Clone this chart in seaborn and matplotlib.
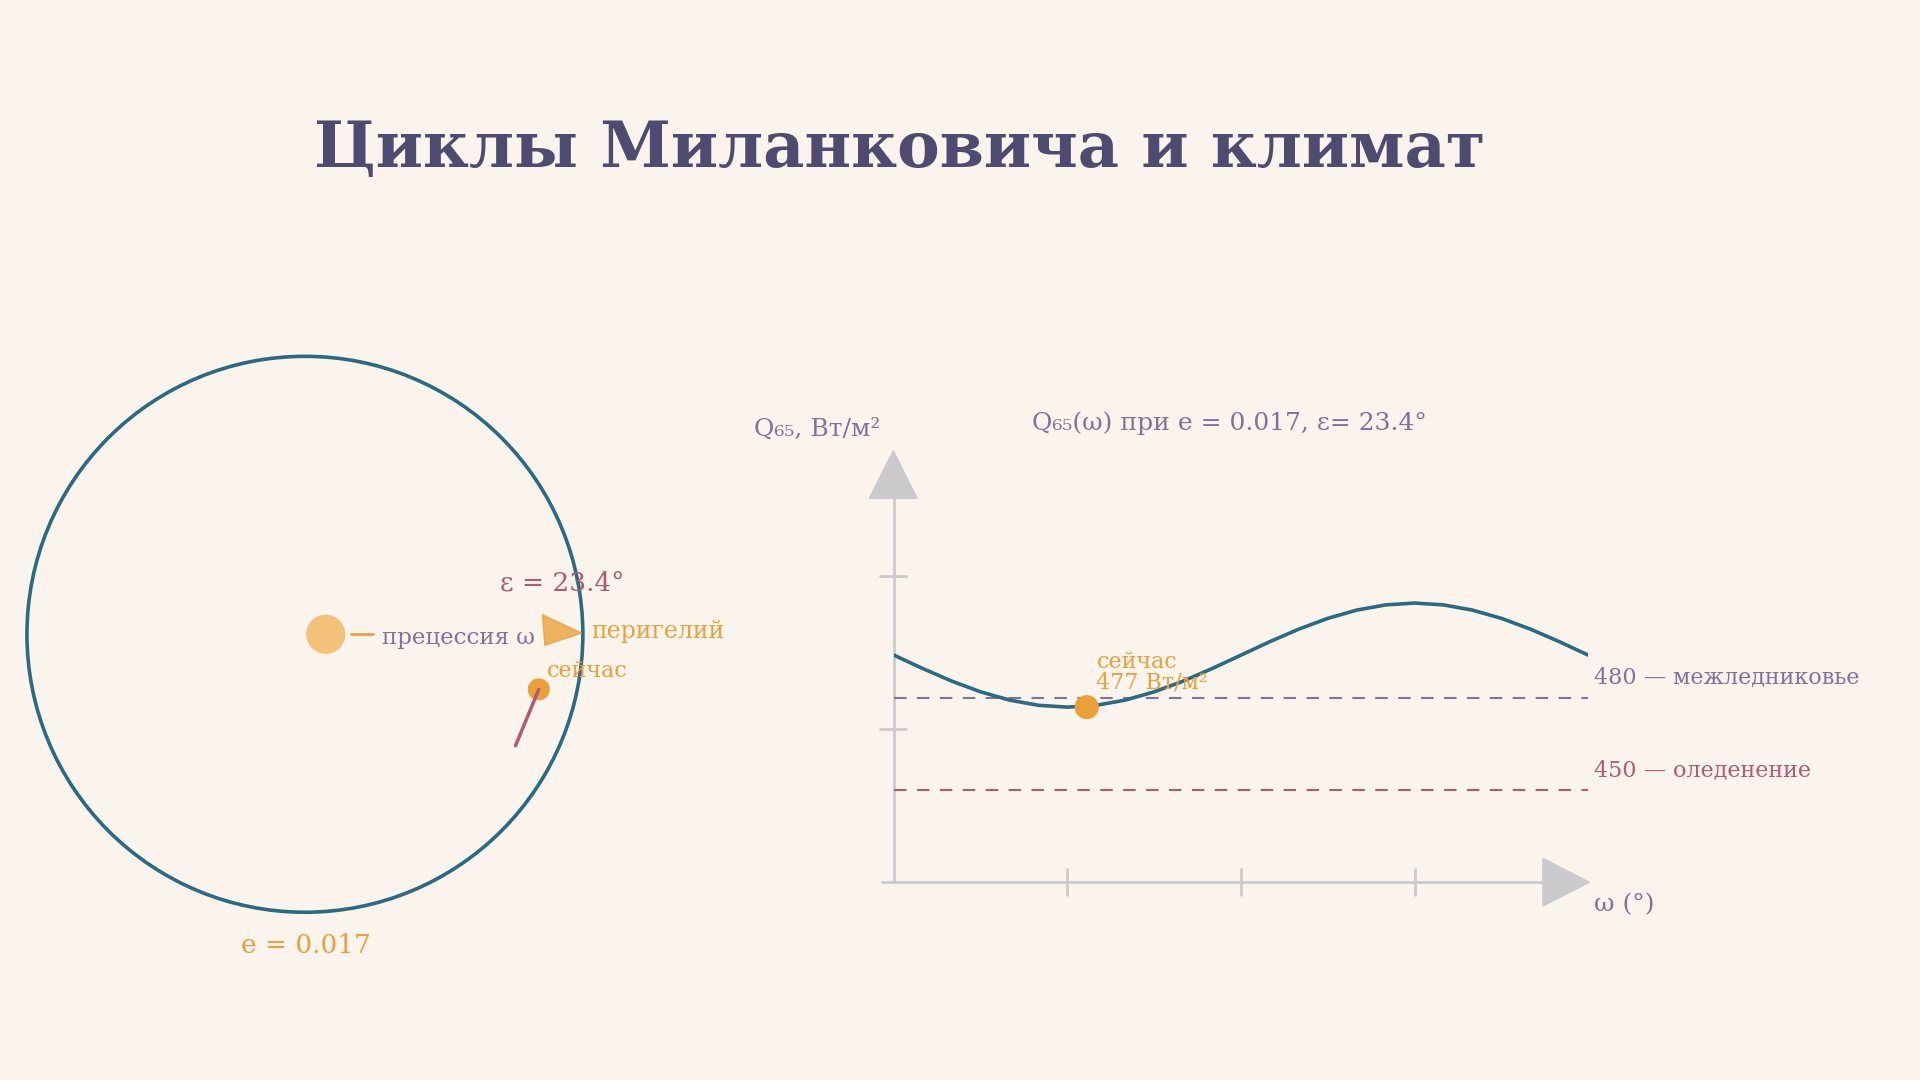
import numpy as np
import pandas as pd
import matplotlib
matplotlib.use("Agg")
import matplotlib.pyplot as plt
import seaborn as sns
from matplotlib.patches import Circle, Polygon

sns.set_theme(style="white")
plt.rcParams['font.family'] = ['DejaVu Serif', 'DejaVu Sans']

# ---- data ----
omega_deg = [0, 15, 30, 45, 60, 75, 90, 105, 120, 135, 150, 165, 180,
             195, 210, 225, 240, 255, 270, 285, 300, 315, 330, 345, 360]
q65 = [494, 489.6, 485.5, 482.0, 479.3, 477.6, 477.0, 477.6, 479.3, 482.0, 485.5, 489.6, 494,
       498.4, 502.5, 506.0, 508.7, 510.4, 511.0, 510.4, 508.7, 506.0, 502.5, 498.4, 494]
x_ticks = [90, 180, 270]
y_ticks = [470, 520]
thresholds = [480, 450]
threshold_labels = ["480 — межледниковье", "450 — оледенение"]
now_omega = 100
now_q = 477
ecc = 0.017
obliq = 23.4

BG = "#faf4ed"
TEAL = "#2a6a82"
ORANGE = "#eba03a"
SUN = "#f3c27a"
PURPLE = "#7f739b"
PINK = "#b05a74"
GREY = "#cdcacd"
TITLE = "#4f4a70"

fig = plt.figure(figsize=(19.2, 10.8), dpi=100, facecolor=BG)
W, H = 1568, 882

ov = fig.add_axes([0, 0, 1, 1], facecolor="none")
ov.set_xlim(0, W); ov.set_ylim(H, 0); ov.axis("off")

ov.text(735, 122, "Циклы Миланковича и климат", ha="center", va="center",
        fontsize=46, fontweight="bold", color=TITLE)

# left orbit diagram
ov.add_patch(Circle((249, 518), 227, fill=False, ec=TEAL, lw=2.6))
ov.add_patch(Circle((266, 518), 16, color=SUN, ec="none"))
ov.plot([287, 305], [518, 518], color=ORANGE, lw=2)
ov.text(312, 521, "прецессия ω", ha="left", va="center", fontsize=16.5, color=PURPLE)
ov.add_patch(Polygon([[443, 502], [475, 517], [445, 527]], closed=True, color=ORANGE, alpha=0.8))
ov.text(483, 516, "перигелий", ha="left", va="center", fontsize=17, color=ORANGE)
ov.text(408, 476, f"ε = {obliq}°", ha="left", va="center", fontsize=19, color=PINK)
ov.plot([440, 421], [563, 609], color=PINK, lw=2.5)
ov.add_patch(Circle((440, 563), 9, color=ORANGE, ec="none"))
ov.text(447, 548, "сейчас", ha="left", va="center", fontsize=16, color=ORANGE)
ov.text(250, 772, f"e = {ecc}", ha="center", va="center", fontsize=19, color=ORANGE)

# right chart axes
x0, x1 = 730, 1297
ytop, ybot = 370, 720
ax = fig.add_axes([x0 / W, 1 - ybot / H, (x1 - x0) / W, (ybot - ytop) / H], facecolor="none")
ax.set_xlim(0, 360); ax.set_ylim(420, 560)
for s in ax.spines.values():
    s.set_visible(False)
ax.set_xticks([]); ax.set_yticks([])
ax.grid(False)

df = pd.DataFrame({"omega": omega_deg, "q": q65})
for t, c in zip(thresholds, [PURPLE, PINK]):
    ax.axhline(t, color=c, lw=1.5, ls=(0, (6, 5)))
sns.lineplot(data=df, x="omega", y="q", ax=ax, color=TEAL, lw=2.6)
ax.scatter([now_omega], [now_q], s=300, color=ORANGE, zorder=5, ec="none")
ax.text(now_omega + 5, 488.5, "сейчас\n477 Вт/м²", ha="left", va="center",
        fontsize=16, color=ORANGE, linespacing=0.9)
ax.set_xlabel(""); ax.set_ylabel("")

ov.plot([730, 730], [720, 400], color=GREY, lw=2)
ov.plot([720, 1270], [720, 720], color=GREY, lw=2)
ov.add_patch(Polygon([[710, 407], [749, 407], [729.5, 368]], closed=True, color=GREY))
ov.add_patch(Polygon([[1260, 701], [1260, 740], [1298, 720.5]], closed=True, color=GREY))
for xt in x_ticks:
    px = x0 + (x1 - x0) * xt / 360
    ov.plot([px, px], [710, 731], color=GREY, lw=2)
for yt in y_ticks:
    py = ybot - (ybot - ytop) * (yt - 420) / 140
    ov.plot([719, 740], [py, py], color=GREY, lw=2)

ov.text(1302, 553, threshold_labels[0], ha="left", va="center", fontsize=16, color=PURPLE)
ov.text(1302, 629, threshold_labels[1], ha="left", va="center", fontsize=16, color=PINK)
ov.text(1302, 739, "ω (°)", ha="left", va="center", fontsize=18, color=PURPLE)
ov.text(667, 351, "Q₆₅, Вт/м²", ha="center", va="center", fontsize=18, color=PURPLE)
ov.text(1004, 346, f"Q₆₅(ω) при e = {ecc}, ε= {obliq}°", ha="center", va="center",
        fontsize=18, color=PURPLE)

fig.savefig("out.png", dpi=100, facecolor=BG)
